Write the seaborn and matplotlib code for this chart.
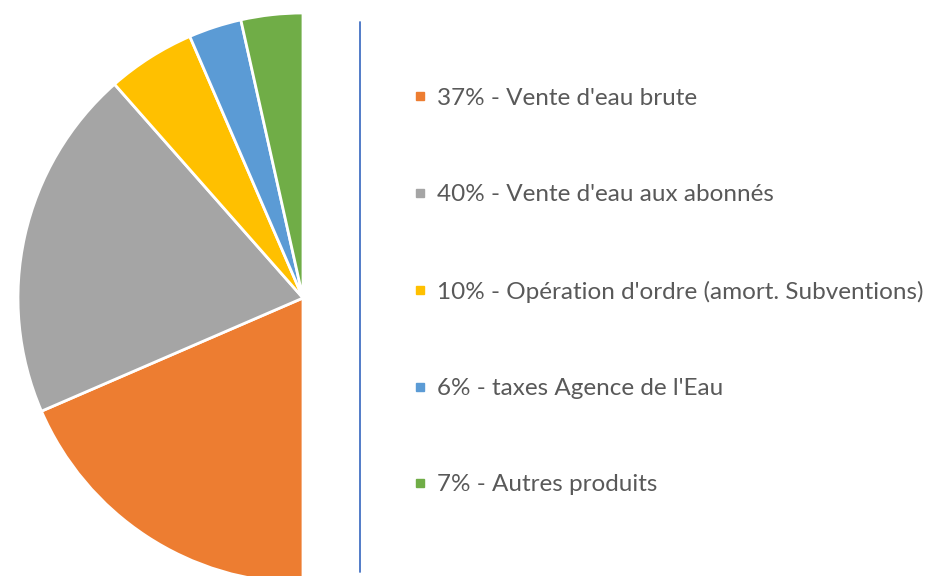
import matplotlib
matplotlib.use("Agg")
import matplotlib.pyplot as plt
from matplotlib.lines import Line2D
import seaborn as sns

# Data
names = ["Vente d'eau brute", "Vente d'eau aux abonnés",
         "Opération d'ordre (amort. Subventions)", "taxes Agence de l'Eau",
         "Autres produits"]
shares = [37, 40, 10, 6, 7]
colors = ["#ED7D31", "#A5A5A5", "#FFC000", "#5B9BD5", "#70AD47"]

sns.set_theme(style="white")
plt.rcParams['font.family'] = ['Lato', 'DejaVu Sans']

fig = plt.figure(figsize=(9.32, 5.76), dpi=100)

# half pie: hidden slice takes the right half
W, H = 932, 576
cx, cy, r = 303, 298, 285
ax = fig.add_axes([(cx - r) / W, (H - cy - r) / H, 2 * r / W, 2 * r / H])
vals = shares + [sum(shares)]
cols = colors + ["none"]
wedges, _ = ax.pie(vals, colors=cols, startangle=270, counterclock=False,
                   wedgeprops=dict(edgecolor="white", linewidth=2))
wedges[-1].set_edgecolor("none")
for w in wedges:
    w.set_clip_on(False)
ax.set_xlim(-1, 1)
ax.set_ylim(-1, 1)
ax.set_aspect("equal")
ax.axis("off")

# separator line
fig.add_artist(Line2D([360 / W, 360 / W], [1 - 22 / H, 1 - 572 / H],
                      color="#4472C4", linewidth=1.3))

# legend
labels = [f"{v}% - {n}" for v, n in zip(shares, names)]
handles = [Line2D([], [], marker="s", linestyle="none", color=c, markersize=6)
           for c in colors]
leg = fig.legend(handles, labels, loc="upper left",
                 bbox_to_anchor=(392 / W, 1 - 66 / H), frameon=False,
                 fontsize=17.5, labelspacing=3.1, handlelength=0.5,
                 handletextpad=0.45, labelcolor="#595959")

fig.savefig("out.png", dpi=100)
